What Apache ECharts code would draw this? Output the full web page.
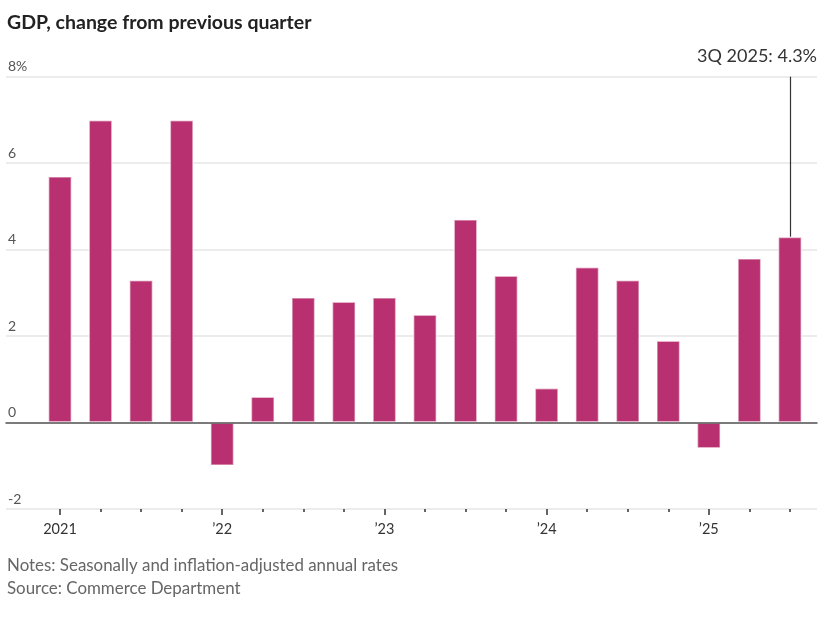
<!DOCTYPE html>
<html><head><meta charset="utf-8">
<script src="https://cdn.jsdelivr.net/npm/echarts@6/dist/echarts.min.js"></script>
<style>html,body{margin:0;padding:0;background:#fff}#c{width:831px;height:622px}</style>
</head><body><div id="c"></div>
<script>
const quarters = ['1Q 2021','2Q 2021','3Q 2021','4Q 2021','1Q 2022','2Q 2022','3Q 2022','4Q 2022','1Q 2023','2Q 2023','3Q 2023','4Q 2023','1Q 2024','2Q 2024','3Q 2024','4Q 2024','1Q 2025','2Q 2025','3Q 2025'];
const gdpChange = [5.7,7.0,3.3,7.0,-1.0,0.6,2.9,2.8,2.9,2.5,4.7,3.4,0.8,3.6,3.3,1.9,-0.6,3.8,4.3];
const yearLabels = ['2021','\u201922','\u201923','\u201924','\u201925'];
const yTickValues = [-2,0,2,4,6,8];
const yTickLabels = ['-2','0','2','4','6','8%'];
const titleText = 'GDP, change from previous quarter';
const notesText = 'Notes: Seasonally and inflation-adjusted annual rates';
const sourceText = 'Source: Commerce Department';

const FONT = 'Lato';
const last = gdpChange.length - 1;
const chart = echarts.init(document.getElementById('c'), null, {renderer:'canvas'});
const yMin = -2, yMax = 8, yStep = 2;
const gridTop = 76.7, gridBottom = 113;
const yOpts = {min:yMin, max:yMax, interval:yStep};

chart.setOption({
  animation:false,
  backgroundColor:'#fff',
  grid:[
    {left:6, right:14, top:gridTop, bottom:gridBottom},
    {left:39.7, right:20.8, top:gridTop, bottom:gridBottom},
    {left:39.7, right:20.8, top:gridTop, bottom:gridBottom}
  ],
  xAxis:[
    {type:'value', gridIndex:0, min:0, max:1, z:5,
     axisLine:{show:true, onZero:true, lineStyle:{color:'#555', width:1.5}},
     axisTick:{show:false}, axisLabel:{show:false}, splitLine:{show:false}},
    {type:'category', gridIndex:1, data:quarters, position:'bottom',
     axisLine:{show:false, onZero:false},
     axisTick:{show:true, alignWithLabel:true, length:6, interval:(i)=>i%4===0, lineStyle:{color:'#333', width:1.5}},
     axisLabel:{interval:(i)=>i%4===0, formatter:(v,i)=>yearLabels[Math.floor(i/4)], margin:13,
       fontFamily:FONT, fontSize:14.5, color:'#333'},
     splitLine:{show:false}},
    {type:'category', gridIndex:2, data:quarters, position:'bottom',
     axisLine:{show:false, onZero:false},
     axisTick:{show:true, alignWithLabel:true, length:3, interval:0, lineStyle:{color:'#333', width:1.5}},
     axisLabel:{show:false}, splitLine:{show:false}}
  ],
  yAxis:[
    Object.assign({type:'value', gridIndex:0,
     axisLine:{show:false}, axisTick:{show:false},
     axisLabel:{inside:true, margin:2, verticalAlign:'bottom', padding:[0,0,3,0],
       formatter:(v)=>yTickLabels[yTickValues.indexOf(v)], fontFamily:FONT, fontSize:14, color:'#555'},
     splitLine:{show:true, lineStyle:{color:'#e6e6e6', width:1.5}}}, yOpts),
    Object.assign({type:'value', gridIndex:1, show:false, splitLine:{show:false}}, yOpts),
    Object.assign({type:'value', gridIndex:2, show:false, splitLine:{show:false}}, yOpts)
  ],
  series:[{
    type:'bar', xAxisIndex:1, yAxisIndex:1, data:gdpChange, barWidth:24,
    itemStyle:{color:'#b8306f', borderColor:'rgba(255,255,255,0.5)', borderWidth:1.5},
    markLine:{silent:true, symbol:'none', label:{show:false},
      lineStyle:{color:'#333', width:1.2, type:'solid'},
      data:[[{coord:[last, gdpChange[last]]},{coord:[last, yMax]}]]}
  }]
});

chart.setOption({
  graphic:[
    {type:'text', left:7, top:13, style:{text:titleText, font:'bold 19.5px '+FONT, fill:'#222'}},
    {type:'text', right:14, top:47, style:{text:quarters[last]+': '+gdpChange[last]+'%', font:'18px '+FONT, fill:'#333'}},
    {type:'text', left:7, top:557, style:{text:notesText, font:'16.9px '+FONT, fill:'#666'}},
    {type:'text', left:7, top:580, style:{text:sourceText, font:'16.9px '+FONT, fill:'#666'}}
  ]
});
</script>
</body></html>
